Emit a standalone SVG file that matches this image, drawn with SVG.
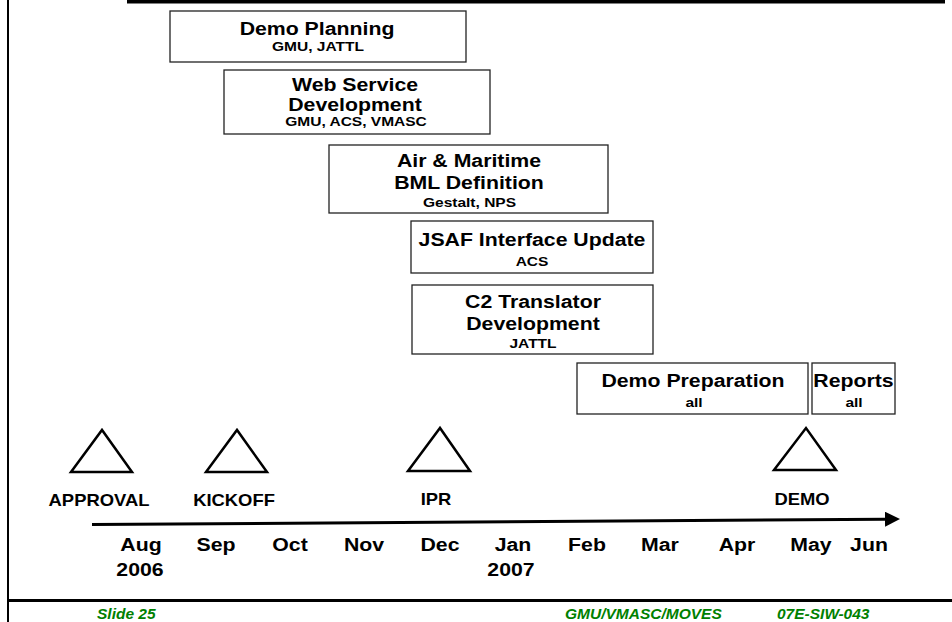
<svg xmlns="http://www.w3.org/2000/svg" width="952" height="622" viewBox="0 0 952 622">
  <defs>
    <style>
      text { font-family: "Liberation Sans", Arial, sans-serif; font-weight: bold; fill: #000; text-anchor: middle; }
      .title { font-size: 18.5px; }
      .sub { font-size: 13.5px; }
      .ms { font-size: 16px; }
      .mon { font-size: 18.5px; }
      .foot { font-size: 15.5px; font-style: italic; fill: #008000; text-anchor: start; }
      .box { fill: #fff; stroke: #222; stroke-width: 1.3; }
      .tri { fill: none; stroke: #000; stroke-width: 2.5; stroke-linejoin: miter; }
    </style>
    <marker id="arrow" viewBox="0 0 15 15" refX="0" refY="7.5" markerWidth="15" markerHeight="15" markerUnits="userSpaceOnUse" orient="auto">
      <path d="M0,0 L15,7.5 L0,15 Z" fill="#000"/>
    </marker>
  </defs>

  <rect width="952" height="622" fill="#fff"/>

  <!-- slide frame -->
  <g id="frame">
    <line x1="8" y1="0" x2="8" y2="622" stroke="#000" stroke-width="2"/>
    <rect x="127" y="0" width="818" height="3.5" fill="#000"/>
    <line x1="8" y1="600.5" x2="952" y2="600.5" stroke="#000" stroke-width="3"/>
  </g>

  <!-- task bars -->
  <g id="demo-planning">
    <rect class="box" x="170" y="11" width="296" height="51"/>
    <text class="title" transform="translate(317 34.7) scale(1.15 1)">Demo Planning</text>
    <text class="sub" transform="translate(318 51.3) scale(1.15 1)">GMU, JATTL</text>
  </g>

  <g id="web-service">
    <rect class="box" x="224" y="70" width="266" height="64"/>
    <text class="title" transform="translate(355 90.7) scale(1.15 1)">Web Service</text>
    <text class="title" transform="translate(355 110.7) scale(1.15 1)">Development</text>
    <text class="sub" transform="translate(356 125.5) scale(1.15 1)">GMU, ACS, VMASC</text>
  </g>

  <g id="air-maritime">
    <rect class="box" x="329" y="145" width="279" height="68"/>
    <text class="title" transform="translate(469 166.7) scale(1.15 1)">Air &amp; Maritime</text>
    <text class="title" transform="translate(469 189.3) scale(1.15 1)">BML Definition</text>
    <text class="sub" transform="translate(469.5 206.7) scale(1.15 1)">Gestalt, NPS</text>
  </g>

  <g id="jsaf-interface">
    <rect class="box" x="411" y="221" width="242" height="52"/>
    <text class="title" transform="translate(532 246) scale(1.15 1)">JSAF Interface Update</text>
    <text class="sub" transform="translate(532 266) scale(1.15 1)">ACS</text>
  </g>

  <g id="c2-translator">
    <rect class="box" x="412" y="285" width="241" height="69"/>
    <text class="title" transform="translate(533 308.3) scale(1.15 1)">C2 Translator</text>
    <text class="title" transform="translate(533 330) scale(1.15 1)">Development</text>
    <text class="sub" transform="translate(533 347.7) scale(1.15 1)">JATTL</text>
  </g>

  <g id="demo-preparation">
    <rect class="box" x="577" y="363" width="231" height="51"/>
    <text class="title" transform="translate(693 387.3) scale(1.15 1)">Demo Preparation</text>
    <text class="sub" transform="translate(694 407.3) scale(1.15 1)">all</text>
  </g>

  <g id="reports">
    <rect class="box" x="812" y="363" width="83" height="51"/>
    <text class="title" transform="translate(853.5 387.3) scale(1.15 1)">Reports</text>
    <text class="sub" transform="translate(854 407.3) scale(1.15 1)">all</text>
  </g>

  <!-- milestones -->
  <g id="approval">
    <polygon class="tri" points="71,472 102,430 132,472"/>
    <text class="ms" transform="translate(99 505.5) scale(1.15 1)">APPROVAL</text>
  </g>
  <g id="kickoff">
    <polygon class="tri" points="206,472 237,430 267,472"/>
    <text class="ms" transform="translate(234 505.5) scale(1.15 1)">KICKOFF</text>
  </g>
  <g id="ipr">
    <polygon class="tri" points="408,471 440,428 470,471"/>
    <text class="ms" transform="translate(436 505) scale(1.15 1)">IPR</text>
  </g>
  <g id="demo">
    <polygon class="tri" points="774,470 806,428 836,470"/>
    <text class="ms" transform="translate(802 504.5) scale(1.15 1)">DEMO</text>
  </g>

  <!-- time axis -->
  <g id="connectors">
    <line x1="92" y1="524.5" x2="885" y2="519.2" stroke="#000" stroke-width="3" marker-end="url(#arrow)"/>
  </g>

  <g id="months">
    <text class="mon" transform="translate(141 551) scale(1.15 1)">Aug</text>
    <text class="mon" transform="translate(140 576) scale(1.15 1)">2006</text>
    <text class="mon" transform="translate(216 551) scale(1.15 1)">Sep</text>
    <text class="mon" transform="translate(290 551) scale(1.15 1)">Oct</text>
    <text class="mon" transform="translate(364 551) scale(1.15 1)">Nov</text>
    <text class="mon" transform="translate(440 551) scale(1.15 1)">Dec</text>
    <text class="mon" transform="translate(513 551) scale(1.15 1)">Jan</text>
    <text class="mon" transform="translate(511 576) scale(1.15 1)">2007</text>
    <text class="mon" transform="translate(587 551) scale(1.15 1)">Feb</text>
    <text class="mon" transform="translate(660 551) scale(1.15 1)">Mar</text>
    <text class="mon" transform="translate(737 551) scale(1.15 1)">Apr</text>
    <text class="mon" transform="translate(811 551) scale(1.15 1)">May</text>
    <text class="mon" transform="translate(869 551) scale(1.15 1)">Jun</text>
  </g>

  <!-- footer -->
  <g id="footer">
    <text class="foot" x="97" y="619.3">Slide 25</text>
    <text class="foot" x="565" y="619.3">GMU/VMASC/MOVES</text>
    <text class="foot" x="777" y="619.3">07E-SIW-043</text>
  </g>
</svg>
